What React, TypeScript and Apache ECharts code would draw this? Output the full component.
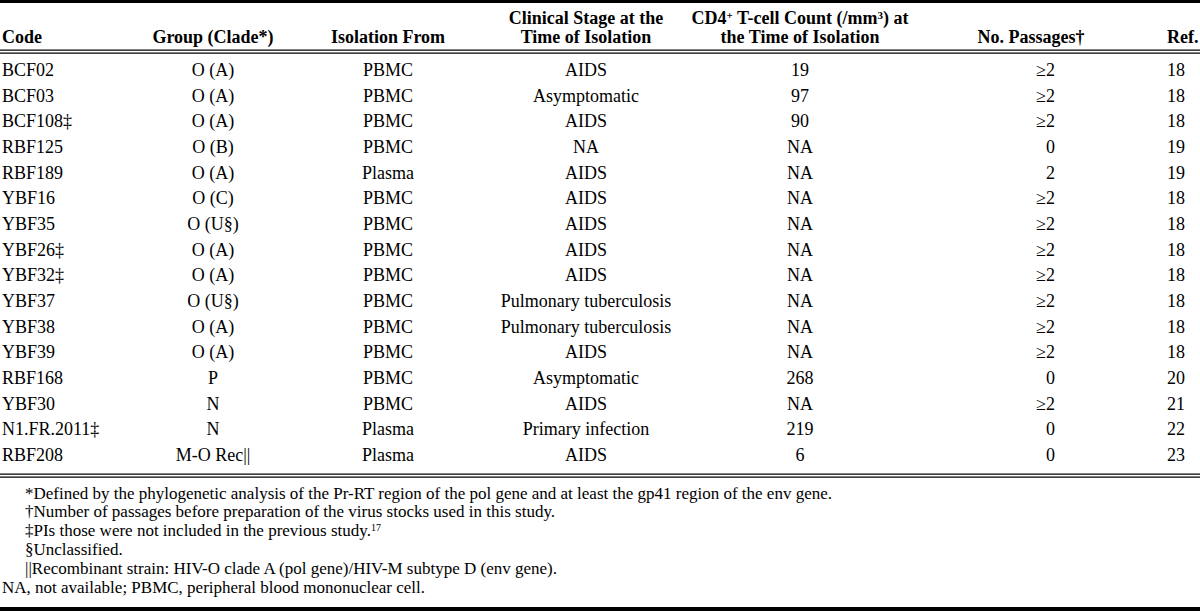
import React, { useEffect, useRef } from "react";
import * as echarts from "echarts";

const codes = ["BCF02","BCF03","BCF108‡","RBF125","RBF189","YBF16","YBF35","YBF26‡","YBF32‡","YBF37","YBF38","YBF39","RBF168","YBF30","N1.FR.2011‡","RBF208"];
const groups = ["O (A)","O (A)","O (A)","O (B)","O (A)","O (C)","O (U§)","O (A)","O (A)","O (U§)","O (A)","O (A)","P","N","N","M-O Rec||"];
const isolations = ["PBMC","PBMC","PBMC","PBMC","Plasma","PBMC","PBMC","PBMC","PBMC","PBMC","PBMC","PBMC","PBMC","PBMC","Plasma","Plasma"];
const stages = ["AIDS","Asymptomatic","AIDS","NA","AIDS","AIDS","AIDS","AIDS","AIDS","Pulmonary tuberculosis","Pulmonary tuberculosis","AIDS","Asymptomatic","AIDS","Primary infection","AIDS"];
const cd4Counts = ["19","97","90","NA","NA","NA","NA","NA","NA","NA","NA","NA","268","NA","219","6"];
const passages = ["≥2","≥2","≥2","0","2","≥2","≥2","≥2","≥2","≥2","≥2","≥2","0","≥2","0","0"];
const refs = ["18","18","18","19","19","18","18","18","18","18","18","18","20","21","22","23"];
const footnotes = [
  "*Defined by the phylogenetic analysis of the Pr-RT region of the pol gene and at least the gp41 region of the env gene.",
  "†Number of passages before preparation of the virus stocks used in this study.",
  "‡PIs those were not included in the previous study.{s|17}",
  "§Unclassified.",
  "||Recombinant strain: HIV-O clade A (pol gene)/HIV-M subtype D (env gene).",
  "NA, not available; PBMC, peripheral blood mononuclear cell.",
];

const FONT = "'Liberation Serif', 'Times New Roman', serif";

export default function App() {
  const ref = useRef<HTMLDivElement>(null);
  useEffect(() => {
    document.body.style.margin = "0";
    const chart = echarts.init(ref.current!, null, { renderer: "svg" });
    const W = 1200;
    const rowY0 = 70;
    const rowH = 25.67;
    const fs = 18;
    const hy1 = 18, hy2 = 37;
    const els: any[] = [];
    const line = (y: number, h: number) => els.push({ type: "rect", shape: { x: 0, y, width: W, height: h }, style: { fill: "#000" }, silent: true });
    const txt = (text: string, x: number, y: number, align: string, opt: any = {}) =>
      els.push({
        type: "text",
        x, y,
        silent: true,
        style: {
          text, x: 0, y: 0,
          font: `${opt.bold ? "bold " : ""}${opt.size || fs}px ${FONT}`,
          fill: "#000",
          textAlign: align,
          textVerticalAlign: "middle",
          rich: opt.rich,
        },
      });
    // rules
    line(0, 3);
    line(49.5, 1.2);
    line(52.5, 1.2);
    line(473.5, 1.2);
    line(476.5, 1.2);
    line(607, 4);

    const cx = { code: 2, group: 213, iso: 388, stage: 586, cd4: 800, pass: 1055, ref: 1167 };
    // header
    const hb = { bold: true };
    txt("Code", cx.code, hy2, "left", hb);
    txt("Group (Clade*)", cx.group, hy2, "center", hb);
    txt("Isolation From", cx.iso, hy2, "center", hb);
    txt("Clinical Stage at the", cx.stage, hy1, "center", hb);
    txt("Time of Isolation", cx.stage, hy2, "center", hb);
    const richH = {
      b: { font: `bold ${fs}px ${FONT}`, fill: "#000" },
      s: { font: `bold 11px ${FONT}`, fill: "#000", verticalAlign: "top", lineHeight: 12 },
    };
    txt("{b|CD4}{s|+}{b| T-cell Count (/mm}{s|3}{b|) at}", cx.cd4, hy1, "center", { bold: true, rich: richH });
    txt("the Time of Isolation", cx.cd4, hy2, "center", hb);
    txt("No. Passages†", 1031, hy2, "center", hb);
    txt("Ref.", cx.ref, hy2, "left", hb);

    codes.forEach((c, i) => {
      const y = rowY0 + rowH * i;
      txt(c, cx.code, y, "left");
      txt(groups[i], cx.group, y, "center");
      txt(isolations[i], cx.iso, y, "center");
      txt(stages[i], cx.stage, y, "center");
      txt(cd4Counts[i], cx.cd4, y, "center");
      txt(passages[i], cx.pass, y, "right");
      txt(refs[i], cx.ref, y, "left");
    });

    const richF = {
      n: { font: `17px ${FONT}`, fill: "#000" },
      s: { font: `10px ${FONT}`, fill: "#000", verticalAlign: "top", lineHeight: 10 },
    };
    footnotes.forEach((f, i) => {
      const y = 493 + 18.8 * i;
      const x = i === footnotes.length - 1 ? 2 : 25;
      const parts = f.split(/(\{s\|[^}]*\})/).filter((p) => p.length);
      const rt = parts.map((p) => (p.startsWith("{s|") ? p : `{n|${p}}`)).join("");
      txt(rt, x, y, "left", { size: 17, rich: richF });
    });

    chart.setOption({ animation: false, graphic: { elements: els } });
    return () => chart.dispose();
  }, []);
  return <div ref={ref} style={{ position: "absolute", left: 0, top: 0, width: 1200, height: 611, background: "#fff" }} />;
}
